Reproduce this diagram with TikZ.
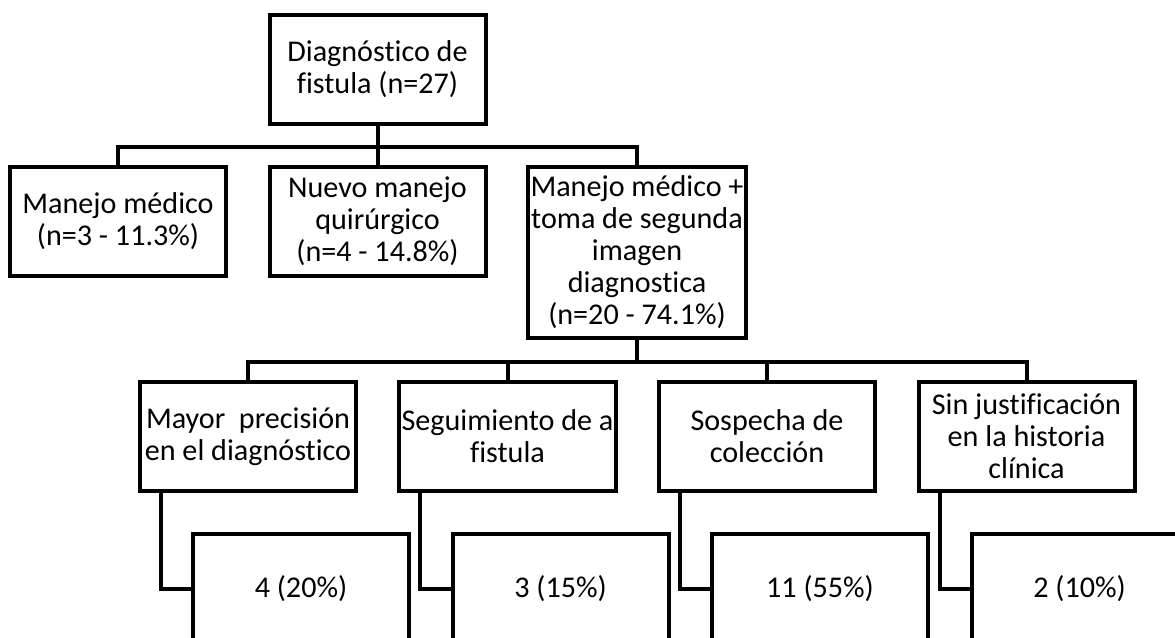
\documentclass[tikz,border=0pt]{standalone}
\usepackage{fontspec}
\setmainfont{Carlito}[Ligatures=NoCommon]
\usepackage{tikz}

\begin{document}
\begin{tikzpicture}[x=0.75pt,y=0.75pt,yscale=-1,xscale=1,
  box/.style={draw,line width=3pt,minimum width=162pt,minimum height=81.75pt,
    inner sep=2pt,align=center,font=\fontsize{22.6pt}{24pt}\selectfont},
  tallbox/.style={box,minimum height=128.25pt},
  link/.style={line width=3pt,line cap=rect}]
\useasboundingbox (0,0) rectangle (1175,638);
\clip (0,0) rectangle (1175,638);

% Text Node
\node[box] (diag) at (377.5,69.5) {Diagnóstico de\\fistula (n=27)};
% Text Node
\node[box] (med) at (118,221.5) {Manejo médico\\(n=3 - 11.3\%)};
% Text Node
\node[box] (quir) at (377.5,221.5) {Nuevo manejo\\quirúrgico\\(n=4 - 14.8\%)};
% Text Node
\node[tallbox] (img) at (637,252.5) {Manejo médico +\\toma de segunda\\imagen\\diagnostica\\(n=20 - 74.1\%)};

% Text Node
\node[box] (prec) at (248,436.5) {Mayor~~precisión\\en el diagnóstico};
% Text Node
\node[box] (seg) at (507.5,436.5) {Seguimiento de a\\fistula};
% Text Node
\node[box] (sosp) at (767,436.5) {Sospecha de\\colección};
% Text Node
\node[box] (sinj) at (1026.5,436.5) {Sin justificación\\en la historia\\clínica};

% Text Node
\node[box] (nprec) at (301,588.5) {4 (20\%)};
% Text Node
\node[box] (nseg) at (560.5,588.5) {3 (15\%)};
% Text Node
\node[box] (nsosp) at (820,588.5) {11 (55\%)};
% Text Node
\node[box] (nsinj) at (1079.5,588.5) {2 (10\%)};

% first level
\draw[link] (diag.south) -- ++(0,21) -| (med.north);
\draw[link] (diag.south) -- ++(0,21) -| (img.north);
\draw[link] (diag.south) -- (quir.north);

% second level
\draw[link] (img.south) -- ++(0,22) -| (prec.north);
\draw[link] (img.south) -- ++(0,22) -| (sinj.north);
\draw[link] (img.south) -- ++(0,22) -| (seg.north);
\draw[link] (img.south) -- ++(0,22) -| (sosp.north);

% counts
\foreach \a/\b in {prec/nprec,seg/nseg,sosp/nsosp,sinj/nsinj}
  \draw[link] ([xshift=17.25pt]\a.south west) |- (\b.west);

\end{tikzpicture}
\end{document}
